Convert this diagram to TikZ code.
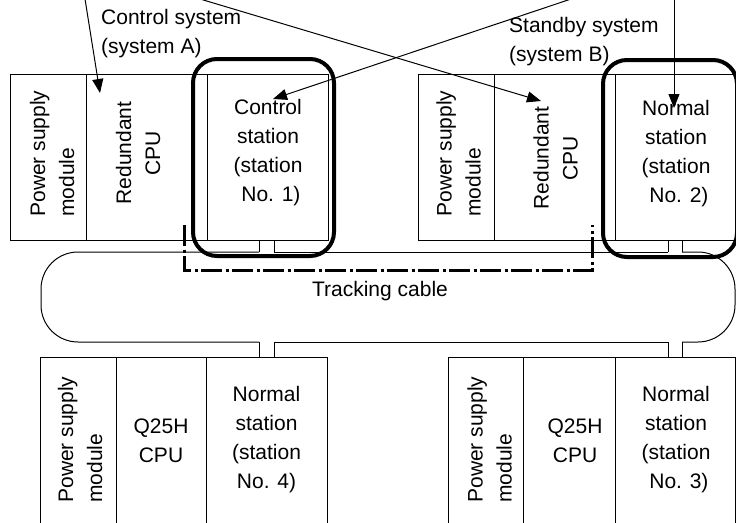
\documentclass[tikz,border=0pt]{standalone}
\usepackage{fontspec}
\setmainfont{Liberation Sans}
\usetikzlibrary{arrows.meta}
\begin{document}
\begin{tikzpicture}[x=1pt,y=-1pt,
  thinl/.style={line width=1pt},
  box/.style={draw, line width=1pt, inner sep=0pt, anchor=north west},
  txt/.style={font=\fontsize{21}{29}\selectfont, inner sep=0pt, align=center},
  rtxt/.style={txt, rotate=90},
  hl/.style={draw, line width=4pt, rounded corners=24pt},
  arr/.style={line width=1pt, -{Triangle[length=14pt,width=11pt]}},
  track/.style={line width=3pt, dash pattern=on 21pt off 3.5pt on 3pt off 3.5pt}
]
\useasboundingbox (0,0) rectangle (736,522);
\clip (0,0) rectangle (736,522);

% top-left rack (system A)
\node[box, minimum width=76pt, minimum height=166pt] (psA) at (10,74) {};
\node[box, minimum width=121pt, minimum height=166pt] (cpuA) at (86,74) {};
\node[box, minimum width=121pt, minimum height=166pt] (stA) at (207,74) {};
% top-right rack (system B)
\node[box, minimum width=76pt, minimum height=166pt] (psB) at (418,74) {};
\node[box, minimum width=121pt, minimum height=166pt] (cpuB) at (494,74) {};
\node[box, minimum width=120pt, minimum height=166pt] (stB) at (615,74) {};
% bottom-left rack (station 4)
\node[box, minimum width=76pt, minimum height=180pt] (psD) at (40,357) {};
\node[box, minimum width=90pt, minimum height=180pt] (cpuD) at (116,357) {};
\node[box, minimum width=121pt, minimum height=180pt] (stD) at (206,357) {};
% bottom-right rack (station 3)
\node[box, minimum width=75pt, minimum height=180pt] (psC) at (448,357) {};
\node[box, minimum width=92pt, minimum height=180pt] (cpuC) at (523,357) {};
\node[box, minimum width=120pt, minimum height=180pt] (stC) at (615,357) {};

% texts
\node[rtxt, align=left] (psAt) at (52,153.5) {Power supply\\module};
\node[rtxt] (cpuAt) at (138,153) {Redundant\\CPU};
\node[txt] (stAt) at (268,153) {Control\\station\\(station\\\ No. 1)};
\node[rtxt, align=left] (psBt) at (458.5,153.5) {Power supply\\module};
\node[rtxt] (cpuBt) at (555.5,158) {Redundant\\CPU};
\node[txt] (stBt) at (676,154) {Normal\\station\\(station\\\ No. 2)};
\node[rtxt, align=left] (psDt) at (80,439.5) {Power supply\\module};
\node[txt] (cpuDt) at (161,441) {Q25H\\CPU};
\node[txt] (stDt) at (266.5,440) {Normal\\station\\(station\\No. 4)};
\node[rtxt, align=left] (psCt) at (489.5,439.5) {Power supply\\module};
\node[txt] (cpuCt) at (575,441) {Q25H\\CPU};
\node[txt] (stCt) at (676,440) {Normal\\station\\(station\\\ No. 3)};

\node[txt, anchor=west, align=left] (labA) at (101,34) {Control system\\(system A)};
\node[txt, anchor=west, align=left] (labB) at (509,42) {Standby system\\(system B)};

% tracking cable
\draw[thinl, rounded corners=37pt] (259,252) -- (41,252) -- (41,342) -- (259,342);
\draw[thinl] (274,252) -- (668,252);
\draw[thinl] (274,342) -- (668,342);
\draw[thinl, rounded corners=37pt] (682,252) -- (735,252) -- (735,342) -- (682,342);
\draw[thinl] (259,240) -- (259,252) (274,240) -- (274,252)
             (668,240) -- (668,252) (682,240) -- (682,252);
\draw[thinl] (259,342) -- (259,357) (274,342) -- (274,357)
             (668,342) -- (668,357) (682,342) -- (682,357);
\node[txt] (trk) at (380,291) {Tracking cable};

% tracking bracket (dash-dot)
\coordinate (tr1) at (184,225);
\coordinate (tr2) at (184,270);
\coordinate (tr3) at (592,270);
\coordinate (tr4) at (592,225);
\draw[track] (tr1) -- (tr2) -- (tr3) -- (tr4);

% highlight frames
\draw[hl] (193,59) rectangle (334,256);
\draw[hl] (603,60) rectangle (737,257);

% arrows
\coordinate (s1) at (85,-1);   \coordinate (t1) at (100,93);
\coordinate (s2) at (200,-1);  \coordinate (t2) at (541,101);
\coordinate (s3) at (571,-1);  \coordinate (t3) at (273,99);
\coordinate (s4) at (674,-1);  \coordinate (t4) at (674,108);
\draw[arr] (s1) -- (t1);
\draw[arr] (s2) -- (t2);
\draw[arr] (s3) -- (t3);
\draw[arr] (s4) -- (t4);
\end{tikzpicture}
\end{document}
